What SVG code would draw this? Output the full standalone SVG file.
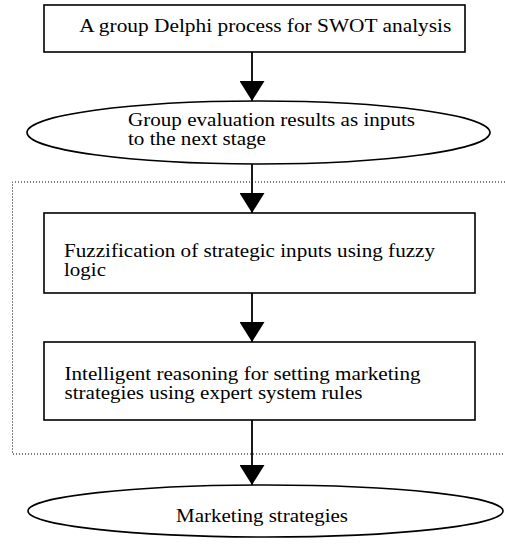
<svg xmlns="http://www.w3.org/2000/svg" width="505" height="547" viewBox="0 0 505 547">
<style>
.box{fill:#fff;stroke:#000;stroke-width:1.6}
.ell{fill:#fff;stroke:#000;stroke-width:1.6}
.t{font-family:"Liberation Serif","Times New Roman",serif;font-size:18.5px;fill:#000}
.c{stroke:#000;stroke-width:1.8;fill:none}
.dot{fill:none;stroke:#000;stroke-width:1;stroke-dasharray:1 2}
</style>
<defs>
<marker id="ah" viewBox="0 0 20 25" refX="20" refY="12.5" markerWidth="20" markerHeight="25" markerUnits="userSpaceOnUse" orient="auto">
<path d="M0,0 L20,12.5 L0,25 z" fill="#000"/>
</marker>
</defs>
<path class="dot" d="M505,182 H12.5 V454 H505"/>
<g id="connectors">
<line class="c" x1="252" y1="52" x2="252" y2="101" marker-end="url(#ah)"/>
<line class="c" x1="252" y1="164" x2="252" y2="213" marker-end="url(#ah)"/>
<line class="c" x1="252" y1="293" x2="252" y2="342" marker-end="url(#ah)"/>
<line class="c" x1="252" y1="420" x2="252" y2="485" marker-end="url(#ah)"/>
</g>
<g id="n1">
<rect class="box" x="44" y="5" width="421" height="47"/>
<text class="t" x="79.3" y="32.3" textLength="372" lengthAdjust="spacingAndGlyphs">A group Delphi process for SWOT analysis</text>
</g>
<g id="n2">
<ellipse class="ell" cx="258.5" cy="132.5" rx="231.5" ry="31.5"/>
<text class="t" x="128" y="126" textLength="287" lengthAdjust="spacingAndGlyphs">Group evaluation results as inputs</text>
<text class="t" x="128" y="144.5" textLength="138" lengthAdjust="spacingAndGlyphs">to the next stage</text>
</g>
<g id="n3">
<rect class="box" x="44" y="213" width="431" height="80"/>
<text class="t" x="64" y="256.5" textLength="371" lengthAdjust="spacingAndGlyphs">Fuzzification of strategic inputs using fuzzy</text>
<text class="t" x="64" y="275.5" textLength="42" lengthAdjust="spacingAndGlyphs">logic</text>
</g>
<g id="n4">
<rect class="box" x="44" y="342" width="431" height="78"/>
<text class="t" x="64.5" y="380" textLength="356" lengthAdjust="spacingAndGlyphs">Intelligent reasoning for setting marketing</text>
<text class="t" x="64.5" y="398.5" textLength="298" lengthAdjust="spacingAndGlyphs">strategies using expert system rules</text>
</g>
<g id="n5">
<ellipse class="ell" cx="265.5" cy="511" rx="237.5" ry="26"/>
<text class="t" x="176" y="521.7" textLength="172" lengthAdjust="spacingAndGlyphs">Marketing strategies</text>
</g>
</svg>
